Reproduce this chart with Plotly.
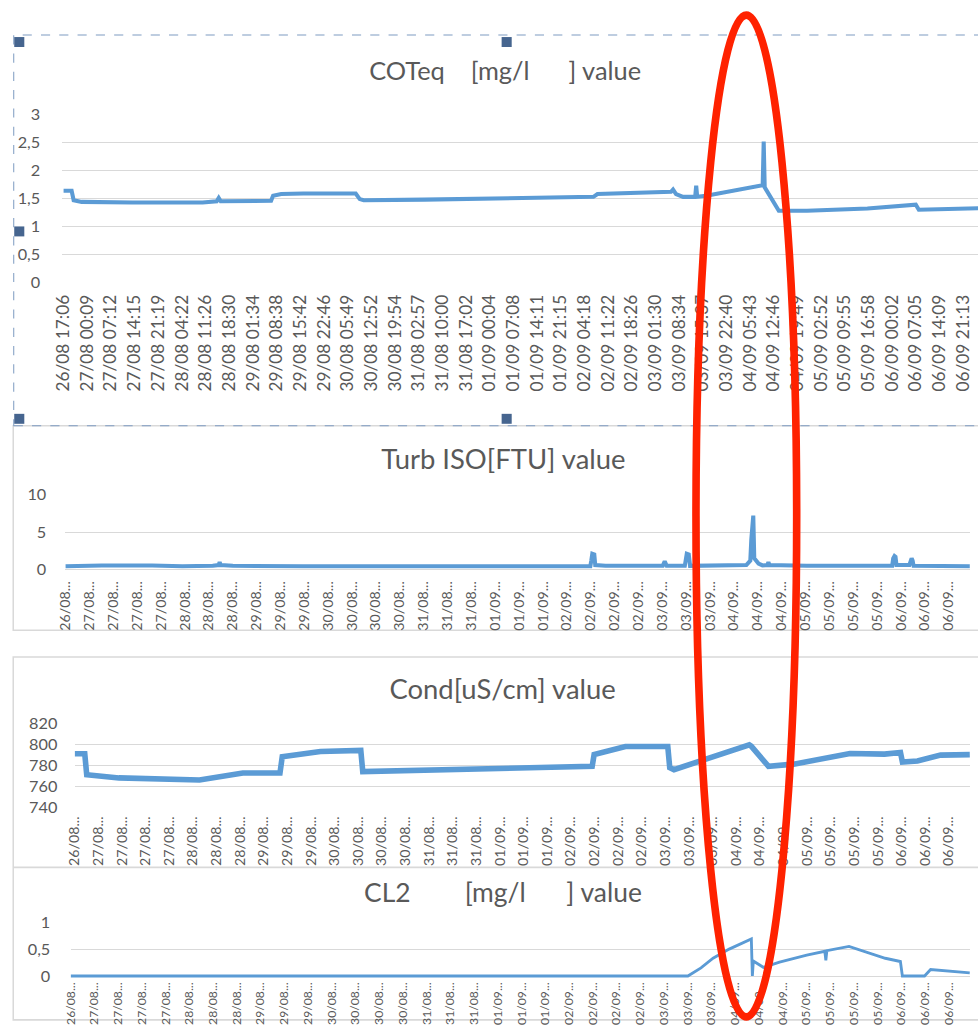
import plotly.graph_objects as go

# ---------------- data (time in hours since 26/08 17:06) ----------------
cot_t = [0, 2.40, 3.00, 5.40, 20.41, 41.43, 45.63, 46.23, 46.83, 51.34, 61.84, 62.44, 64.85,
         71.45, 87.06, 88.26, 89.46, 107.48, 131.49, 149.50, 157.91, 159.11, 167.52, 181.03,
         181.63, 182.53, 184.63, 188.23, 188.53, 188.83, 191.53, 207.45, 208.35, 208.65,
         208.95, 213.15, 221.56, 239.57, 248.85, 253.08, 253.98, 254.88, 260.58, 274.69]
cot_v = [1.64, 1.64, 1.47, 1.44, 1.43, 1.43, 1.45, 1.51, 1.45, 1.45, 1.46, 1.55, 1.58,
         1.59, 1.59, 1.49, 1.47, 1.48, 1.50, 1.52, 1.53, 1.58, 1.59, 1.62,
         1.66, 1.58, 1.53, 1.53, 1.73, 1.53, 1.55, 1.74, 1.74, 2.52,
         1.70, 1.28, 1.28, 1.32, 1.37, 1.38, 1.39, 1.30, 1.31, 1.33]

turb_t = [0, 11.0, 26.3, 35.5, 44.7, 46.5, 46.8, 47.1, 50.8, 72.2, 133.4, 159.4, 159.7,
          160.0, 160.6, 160.9, 164.0, 181.4, 182.0, 182.6, 188.1, 188.4, 188.7, 189.3,
          189.7, 206.8, 208.0, 208.3, 208.6, 208.9, 209.2, 210.5, 211.7, 213.2, 213.5,
          213.8, 225.1, 251.1, 251.4, 251.8, 252.1, 252.4, 256.3, 256.7, 257.0, 257.3,
          257.6, 274.7]
turb_v = [0.45, 0.55, 0.55, 0.45, 0.5, 0.6, 1.0, 0.6, 0.5, 0.45, 0.45, 0.45, 1.2,
          2.1, 2.0, 0.6, 0.5, 0.5, 1.1, 0.5, 0.5, 1.5, 2.1, 2.0,
          0.5, 0.6, 1.2, 4.0, 7.2, 7.2, 1.5, 0.8, 0.55, 0.6, 1.0,
          0.6, 0.5, 0.5, 1.5, 1.8, 1.7, 0.6, 0.6, 1.4, 1.5, 1.2,
          0.5, 0.45]

cond_t = [0, 3.1, 3.7, 13.6, 38.3, 51.6, 63.0, 63.7, 75.4, 87.8, 88.4, 111.2, 131.9,
          158.8, 159.4, 169.0, 182.0, 182.6, 183.9, 207.0, 207.6, 212.9, 220.6, 237.9,
          248.5, 253.4, 254.0, 258.6, 265.7, 274.7]
cond_v = [790.8, 790.8, 771, 768, 766, 772.6, 772.6, 788, 793, 794, 774, 775.5, 777,
          778.9, 790, 797.7, 797.7, 777.6, 775.8, 799.3, 798, 778.9, 781, 791,
          790.5, 792, 783, 784, 789.5, 790]

cl2_t = [0, 188.56, 192.56, 196.25, 201.17, 204.9, 207.94, 208.25, 208.55, 211.63, 216.55,
         224.86, 230.39, 230.70, 231.01, 237.78, 248.85, 253.47, 254.08, 260.85, 262.70,
         274.69]
cl2_v = [0, 0, 0.15, 0.33, 0.50, 0.60, 0.69, 0.0, 0.28, 0.16, 0.26,
         0.39, 0.46, 0.29, 0.47, 0.55, 0.33, 0.27, 0.0, 0.0, 0.12,
         0.06]

cot_labels = ["26/08 17:06", "27/08 00:09", "27/08 07:12", "27/08 14:15", "27/08 21:19",
              "28/08 04:22", "28/08 11:26", "28/08 18:30", "29/08 01:34", "29/08 08:38",
              "29/08 15:42", "29/08 22:46", "30/08 05:49", "30/08 12:52", "30/08 19:54",
              "31/08 02:57", "31/08 10:00", "31/08 17:02", "01/09 00:04", "01/09 07:08",
              "01/09 14:11", "01/09 21:15", "02/09 04:18", "02/09 11:22", "02/09 18:26",
              "03/09 01:30", "03/09 08:34", "03/09 15:37", "03/09 22:40", "04/09 05:43",
              "04/09 12:46", "04/09 19:49", "05/09 02:52", "05/09 09:55", "05/09 16:58",
              "06/09 00:02", "06/09 07:05", "06/09 14:09", "06/09 21:13"]

short_days = ["26/08"] + ["27/08"] * 4 + ["28/08"] * 3 + ["29/08"] * 3 + ["30/08"] * 4 + \
             ["31/08"] * 3 + ["01/09"] * 3 + ["02/09"] * 4 + ["03/09"] * 3 + ["04/09"] * 3 + \
             ["05/09"] * 4 + ["06/09"] * 3
short_labels = [d + "..." for d in short_days]
SHORT_STEP_H = 7.25

NB = "\u00a0"
titles = ["COTeq" + NB * 4 + "[mg/l" + NB * 6 + "] value",
          "Turb ISO[FTU] value",
          "Cond[uS/cm] value",
          "CL2" + NB * 8 + "[mg/l" + NB * 6 + "] value"]


def label_hours(lbl):
    d, rest = lbl.split("/")
    mon, hm = rest.split(" ")
    hh, mm = hm.split(":")
    day = int(d) + (31 if mon == "09" else 0) - 26
    return day * 24 + int(hh) + int(mm) / 60 - (17 + 6 / 60)


cot_tickvals = [label_hours(l) for l in cot_labels]
short_tickvals = [k * SHORT_STEP_H for k in range(len(short_labels))]

# ---------------- layout helpers ----------------
W, H = 978, 1030
FONT = "Lato, Open Sans, sans-serif"
GREY = "#595959"
GRID = "#D9D9D9"
BLUE = "#5B9BD5"


def px(x):
    return x / W


def py(y):
    return 1 - y / H


fig = go.Figure()

panels = [
    dict(x0=60, x1=978, yt=113, yb=281, yr=[0, 3], tv=cot_tickvals, tt=cot_labels,
         ytv=[0, 0.5, 1, 1.5, 2, 2.5, 3],
         xr=[-0.6, 274.9], lw=4, xf=17, ys=20, xs=8),
    dict(x0=63, x1=962, yt=494, yb=573, yr=[-0.5, 10], tv=short_tickvals, tt=short_labels,
         ytv=[0, 5, 10],
         xr=[-0.3, 274.7], lw=4, xf=14, ys=17, xs=4),
    dict(x0=73, x1=962, yt=723, yb=808, yr=[740, 820], tv=short_tickvals, tt=short_labels,
         ytv=[740, 760, 780, 800, 820],
         xr=[0, 274.7], lw=5.5, xf=14, ys=16, xs=5),
    dict(x0=69, x1=962, yt=923, yb=979, yr=[-0.0370, 1], tv=short_tickvals, tt=short_labels,
         ytv=[0, 0.5, 1],
         xr=[0, 274.7], lw=2.8, xf=12, ys=19, xs=1),
]
series = [(cot_t, cot_v), (turb_t, turb_v), (cond_t, cond_v), (cl2_t, cl2_v)]

layout = dict(width=W, height=H, margin=dict(l=0, r=0, t=0, b=0), autosize=False,
              paper_bgcolor="white", plot_bgcolor="rgba(0,0,0,0)", showlegend=False,
              separators=", ", font=dict(family=FONT, color=GREY), hovermode=False)

for i, (p, (t, v)) in enumerate(zip(panels, series), start=1):
    sfx = "" if i == 1 else str(i)
    fig.add_trace(go.Scatter(x=t, y=v, mode="lines", line=dict(color=BLUE, width=p["lw"]),
                             xaxis="x" + sfx, yaxis="y" + sfx))
    layout["xaxis" + sfx] = dict(domain=[px(p["x0"]), px(p["x1"])], anchor="y" + sfx,
                                 range=p["xr"], tickmode="array", tickvals=p["tv"],
                                 ticktext=p["tt"], tickangle=-90, showgrid=False,
                                 zeroline=False, showline=False, ticks="",
                                 ticklabelstandoff=p["xs"],
                                 tickfont=dict(size=p["xf"], color=GREY, family=FONT))
    layout["yaxis" + sfx] = dict(domain=[py(p["yb"]), py(p["yt"])], anchor="x" + sfx,
                                 range=p["yr"], tickmode="array", tickvals=p["ytv"],
                                 showgrid=True, gridcolor=GRID, gridwidth=1.3,
                                 zeroline=False, showline=False, ticks="",
                                 ticklabelstandoff=p["ys"],
                                 tickfont=dict(size=16, color=GREY, family=FONT))

fig.update_layout(**layout)

# titles
title_pos = [(501, 68), (499, 458), (498, 688), (498, 892)]
title_size = [25, 27, 27, 26]
for txt, (cx, cy), fs in zip(titles, title_pos, title_size):
    fig.add_annotation(text=txt, x=px(cx), y=py(cy), xref="paper", yref="paper",
                       xanchor="center", yanchor="middle", showarrow=False,
                       font=dict(size=fs, color=GREY, family=FONT))

shapes = []
# chart frames
shapes.append(dict(type="rect", xref="paper", yref="paper", x0=px(12), x1=px(990),
                   y0=py(630), y1=py(425), line=dict(color=GRID, width=1.5), layer="below"))
shapes.append(dict(type="rect", xref="paper", yref="paper", x0=px(12), x1=px(990),
                   y0=py(1021), y1=py(657), line=dict(color=GRID, width=1.5), layer="below"))
shapes.append(dict(type="line", xref="paper", yref="paper", x0=px(12), x1=px(990),
                   y0=py(868), y1=py(868), line=dict(color=GRID, width=1.5), layer="below"))
# selected chart dashed frame
shapes.append(dict(type="rect", xref="paper", yref="paper", x0=px(12.5), x1=px(990),
                   y0=py(425), y1=py(33), line=dict(color="#7F9CC2", width=1, dash="dash"),
                   layer="above"))
# selection handles
for hx, hy in [(18, 40), (502, 40), (18, 230), (18, 418), (502, 418)]:
    shapes.append(dict(type="rect", xref="paper", yref="paper", x0=px(hx - 5), x1=px(hx + 5),
                       y0=py(hy + 5), y1=py(hy - 5), line=dict(width=0),
                       fillcolor="#46658F", layer="above"))
# red highlight ellipse
shapes.append(dict(type="circle", xref="paper", yref="paper", x0=px(690), x1=px(790),
                   y0=py(1018), y1=py(13), line=dict(color="#FF2200", width=7.5),
                   layer="above"))
fig.update_layout(shapes=shapes)

# page reset: remove default margins and compensate the viewer's framing
reset_js = (
    "var s=document.createElement('style');"
    "s.textContent='html,body{margin:0!important;padding:0!important;overflow:hidden!important;}"
    ".plotly-graph-div{transform-origin:0 0;"
    "transform:translate(-8px,-8px) scale(1.01636,1.01553);}';"
    "document.head.appendChild(s);"
    "window.scrollTo(0,0);"
)
fig.write_html("out.html", config={"displayModeBar": False}, post_script=reset_js)
